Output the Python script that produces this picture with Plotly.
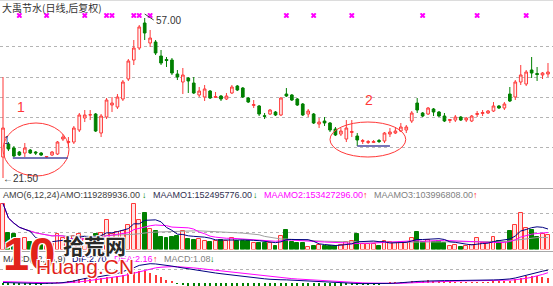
import plotly.graph_objects as go
import pandas as pd

# ---------------- data ----------------
days = list(range(101))
open_ = [26.05, 28.86, 27.99, 27.13, 26.91, 27.56, 27.13, 26.91, 26.05, 26.48,
         26.70, 29.94, 29.18, 29.29, 31.89, 34.49, 35.14, 35.35, 31.24, 34.70,
         37.30, 36.87, 38.60, 42.93, 47.04, 49.64, 55.05, 50.72, 50.94, 47.91,
         47.15, 47.04, 44.01, 42.28, 43.15, 42.06, 39.47, 39.03, 40.33, 38.93,
         39.25, 38.60, 39.90, 41.41, 40.98, 38.82, 37.20, 37.09, 34.98, 35.35,
         35.79, 35.14, 39.68, 39.47, 38.60, 37.52, 35.35, 35.35, 33.19, 33.84,
         33.41, 32.11, 31.02, 29.94, 31.35, 30.59, 29.40, 29.18, 29.18, 29.62,
         29.51, 31.02, 31.24, 31.67, 31.89, 33.84, 37.73, 35.57, 35.35, 36.44,
         35.79, 34.92, 33.95, 34.05, 34.70, 34.05, 33.84, 35.25, 35.46, 35.57,
         36.00, 37.09, 36.65, 39.68, 39.03, 42.28, 41.85, 44.88, 44.12, 43.80,
         44.01]
high = [43.36, 29.29, 28.43, 27.34, 29.08, 27.78, 27.34, 27.13, 26.26, 27.34,
        29.51, 31.02, 30.37, 32.76, 35.57, 36.22, 36.22, 35.57, 35.35, 38.82,
        39.03, 39.68, 42.71, 47.26, 51.37, 54.62, 57.00, 53.54, 51.37, 49.21,
        47.69, 47.47, 44.88, 45.31, 43.36, 43.36, 41.20, 41.63, 40.55, 40.12,
        39.47, 39.90, 41.63, 41.63, 41.20, 39.03, 38.38, 37.30, 35.57, 36.44,
        36.00, 39.03, 40.98, 39.68, 38.82, 37.73, 36.44, 35.57, 34.49, 34.70,
        33.62, 32.54, 32.32, 34.05, 34.05, 31.24, 29.94, 29.73, 29.73, 29.94,
        31.46, 32.32, 32.54, 33.41, 32.97, 36.00, 38.82, 35.79, 36.87, 36.65,
        36.00, 35.57, 34.27, 35.14, 34.92, 34.70, 35.14, 36.00, 36.22, 36.22,
        37.95, 37.30, 37.95, 41.20, 42.71, 45.96, 44.88, 47.69, 45.53, 44.44,
        46.39]
low = [21.50, 27.34, 26.05, 26.26, 26.05, 26.70, 26.48, 26.26, 25.83, 26.26,
       26.48, 29.51, 28.21, 28.86, 31.46, 33.62, 34.05, 31.46, 30.37, 34.27,
       35.79, 36.44, 38.17, 42.50, 45.96, 49.21, 51.37, 49.86, 48.12, 45.96,
       45.53, 43.80, 42.71, 39.68, 39.90, 39.68, 39.03, 38.17, 38.60, 38.82,
       38.17, 38.38, 39.68, 40.33, 38.82, 37.73, 36.65, 34.92, 34.27, 35.14,
       34.92, 34.92, 39.03, 38.17, 37.09, 34.92, 34.70, 33.19, 32.32, 32.76,
       31.46, 30.59, 30.59, 29.29, 30.37, 28.43, 28.86, 28.86, 29.08, 29.08,
       29.08, 30.37, 31.02, 31.46, 31.24, 33.41, 35.57, 34.70, 35.14, 34.92,
       34.70, 33.62, 33.41, 33.62, 33.84, 33.62, 33.62, 34.70, 34.92, 35.35,
       35.79, 36.44, 36.22, 37.95, 38.38, 41.63, 41.41, 43.15, 42.50, 42.93,
       43.36]
close = [32.32, 27.78, 26.26, 26.48, 27.99, 26.91, 26.91, 26.48, 26.15, 27.13,
         29.29, 30.37, 29.40, 32.32, 35.14, 35.14, 35.20, 31.67, 34.92, 38.38,
         37.73, 39.03, 42.28, 46.83, 49.64, 54.19, 52.89, 51.80, 48.56, 46.39,
         46.93, 44.23, 43.36, 43.80, 42.50, 39.90, 40.33, 40.77, 38.82, 39.14,
         38.60, 39.25, 41.20, 40.55, 39.03, 37.95, 37.41, 35.35, 34.86, 36.22,
         35.14, 38.82, 39.25, 38.38, 37.30, 35.14, 36.00, 33.41, 33.62, 33.41,
         31.89, 30.81, 31.67, 32.32, 31.57, 29.73, 29.62, 29.40, 29.40, 29.40,
         31.24, 31.46, 31.67, 32.54, 32.54, 35.57, 36.22, 34.92, 36.65, 35.79,
         34.92, 33.84, 34.16, 34.70, 34.05, 34.49, 34.92, 35.46, 35.68, 36.00,
         37.09, 36.65, 37.52, 38.17, 42.28, 43.80, 44.44, 44.23, 43.90, 44.23,
         44.44]
# turnover amount (AMO), millions
amo = [368, 136, 128, 80, 96, 64, 64, 64, 40, 48,
       128, 96, 80, 112, 128, 88, 80, 128, 136, 240,
       128, 144, 152, 200, 368, 240, 296, 168, 152, 104,
       96, 104, 112, 152, 88, 80, 88, 72, 64, 72,
       80, 72, 96, 72, 72, 72, 56, 56, 56, 56,
       32, 112, 160, 64, 56, 56, 24, 32, 40, 32,
       32, 32, 40, 64, 72, 128, 48, 48, 48, 32,
       72, 64, 56, 64, 56, 96, 144, 64, 80, 64,
       72, 56, 32, 40, 24, 32, 40, 96, 56, 56,
       104, 72, 64, 152, 200, 296, 176, 160, 104, 128,
       119.29]
dif = [0.10, 0.05, 0.00, -0.03, -0.05, -0.07, -0.08, -0.09, -0.10, -0.08,
       0.00, 0.08, 0.20, 0.40, 0.70, 0.95, 1.15, 1.20, 1.35, 1.60,
       1.80, 2.00, 2.35, 2.80, 3.20, 3.70, 3.95, 4.05, 4.00, 3.90,
       3.75, 3.55, 3.35, 3.15, 2.95, 2.75, 2.55, 2.40, 2.25, 2.10,
       1.95, 1.80, 1.68, 1.55, 1.42, 1.28, 1.15, 1.00, 0.88, 0.78,
       0.68, 0.68, 0.66, 0.60, 0.52, 0.42, 0.35, 0.26, 0.20, 0.14,
       0.06, -0.02, -0.06, -0.05, -0.05, -0.10, -0.13, -0.15, -0.16, -0.17,
       -0.13, -0.08, -0.03, 0.02, 0.06, 0.18, 0.32, 0.38, 0.45, 0.50,
       0.52, 0.50, 0.50, 0.50, 0.49, 0.49, 0.50, 0.52, 0.55, 0.58,
       0.64, 0.68, 0.73, 0.85, 1.05, 1.35, 1.70, 1.98, 2.22, 2.48,
       2.70]
dea = [0.30, 0.26, 0.21, 0.16, 0.12, 0.08, 0.05, 0.02, 0.00, -0.02,
       -0.01, 0.01, 0.05, 0.12, 0.24, 0.38, 0.53, 0.66, 0.80, 0.96,
       1.13, 1.31, 1.51, 1.77, 2.06, 2.39, 2.70, 2.97, 3.18, 3.32,
       3.41, 3.44, 3.42, 3.37, 3.28, 3.17, 3.05, 2.92, 2.79, 2.68,
       2.53, 2.38, 2.24, 2.10, 1.99, 1.85, 1.71, 1.57, 1.43, 1.30,
       1.18, 1.08, 0.99, 0.92, 0.84, 0.76, 0.68, 0.60, 0.52, 0.44,
       0.37, 0.29, 0.22, 0.16, 0.12, 0.07, 0.03, 0.00, -0.04, -0.06,
       -0.08, -0.09, -0.08, -0.06, -0.04, 0.00, 0.06, 0.12, 0.18, 0.24,
       0.30, 0.34, 0.37, 0.40, 0.42, 0.44, 0.45, 0.46, 0.48, 0.49,
       0.51, 0.54, 0.57, 0.61, 0.68, 0.79, 0.98, 1.20, 1.45, 1.80,
       2.16]
macd = [-0.40, -0.42, -0.42, -0.38, -0.34, -0.30, -0.26, -0.22, -0.20, -0.12,
        0.02, 0.14, 0.30, 0.56, 0.92, 1.14, 1.24, 1.08, 1.10, 1.28,
        1.34, 1.38, 1.68, 2.06, 2.28, 2.62, 2.50, 2.16, 1.64, 1.16,
        0.68, 0.22, -0.14, -0.44, -0.66, -0.84, -1.00, -1.04, -1.08, -1.16,
        -1.16, -1.16, -1.12, -1.10, -1.14, -1.14, -1.12, -1.14, -1.10, -1.04,
        -1.00, -0.80, -0.66, -0.64, -0.64, -0.68, -0.66, -0.68, -0.64, -0.60,
        -0.62, -0.62, -0.56, -0.42, -0.34, -0.34, -0.32, -0.30, -0.24, -0.22,
        -0.10, 0.02, 0.10, 0.16, 0.20, 0.36, 0.52, 0.52, 0.54, 0.52,
        0.44, 0.32, 0.26, 0.20, 0.14, 0.10, 0.10, 0.12, 0.14, 0.18,
        0.26, 0.28, 0.32, 0.48, 0.74, 1.12, 1.44, 1.56, 1.54, 1.36,
        1.08]
marker_days = [3, 8, 15, 19, 20, 24, 25, 27, 52, 57, 64, 77, 87, 96]
price_grid = [49.86, 43.15, 39.03, 34.70, 28.21]
amo_grid = [140, 292]
macd_grid = [2.94]

title_text = "大禹节水(日线,后复权)"
amo_labels = [("AMO(6,12,24)", 1, "#404040"), ("AMO:119289936.00", 58, "#404040"),
              ("↓", 140, "#008000"), ("MAAMO1:152495776.00", 151, "#303050"),
              ("↓", 251, "#008000"), ("MAAMO2:153427296.00", 262, "#ff00ff"),
              ("↑", 361, "#ff2020"), ("MAAMO3:103996808.00", 372, "#808080"),
              ("↑", 471, "#ff2020")]
macd_labels = [("MACD(12,26,9)", 1, "#404040"), ("DIF:2.70", 70, "#000080"),
               ("DEA:2.16", 112, "#ff00ff"), ("↑", 151, "#ff2020"),
               ("MACD:1.08", 162, "#808080"), ("↓", 208, "#008000")]

# ---------------- styling ----------------
W, H = 553, 286
RED = "#ff3838"
GREEN = "#008000"
NAVY = "#000080"
MAG = "#ff00ff"
GRAY = "#a0a0a0"
LAT = "Liberation Sans, Arial, sans-serif"
CJK = "Noto Sans CJK SC, sans-serif"


def fy(ypix):
    return (H - ypix) / H


fig = go.Figure()

fig.add_trace(go.Candlestick(
    x=days, open=open_, high=high, low=low, close=close,
    increasing=dict(line=dict(color=RED, width=1), fillcolor="#fff0f0"),
    decreasing=dict(line=dict(color=GREEN, width=1), fillcolor=GREEN),
    whiskerwidth=0, xaxis="x", yaxis="y", showlegend=False, hoverinfo="skip"))

up = [c >= o for o, c in zip(open_, close)]
fig.add_trace(go.Bar(
    x=days, y=amo, width=0.72, yaxis="y2", showlegend=False, hoverinfo="skip",
    marker=dict(color=["#ffe4e4" if u else GREEN for u in up],
                line=dict(color=[RED if u else GREEN for u in up], width=1))))
s = pd.Series(amo)
for n, col in [(24, GRAY), (12, MAG), (6, NAVY)]:
    fig.add_trace(go.Scatter(x=days, y=s.rolling(n, min_periods=1).mean(), mode="lines",
                             line=dict(color=col, width=1), yaxis="y2",
                             showlegend=False, hoverinfo="skip"))

fig.add_trace(go.Bar(
    x=days, y=macd, width=0.2, yaxis="y3", showlegend=False, hoverinfo="skip",
    marker=dict(color=[RED if m >= 0 else GREEN for m in macd], line=dict(width=0))))
fig.add_trace(go.Scatter(x=days, y=dea, mode="lines", line=dict(color=MAG, width=1),
                         yaxis="y3", showlegend=False, hoverinfo="skip"))
fig.add_trace(go.Scatter(x=days, y=dif, mode="lines", line=dict(color=NAVY, width=1),
                         yaxis="y3", showlegend=False, hoverinfo="skip"))

fig.add_trace(go.Scatter(x=marker_days, y=[0.5] * len(marker_days), mode="markers",
                         marker=dict(symbol="x", size=5, color=MAG, line=dict(width=0)),
                         yaxis="y4", showlegend=False, hoverinfo="skip"))

grid = dict(showgrid=True, gridcolor="#b4b4b4", griddash="dot", gridwidth=1,
            zeroline=False, showticklabels=False, ticks="", showline=False, fixedrange=True)

fig.update_layout(
    width=W, height=H, margin=dict(l=0, r=0, t=0, b=0),
    paper_bgcolor="white", plot_bgcolor="white", hovermode=False,
    showlegend=False, bargap=0,
    xaxis=dict(range=[-0.55, 100.92], visible=False, fixedrange=True,
               rangeslider=dict(visible=False)),
    yaxis=dict(domain=[fy(188), 1], range=[19.34, 60.03], tickvals=price_grid, **grid),
    yaxis2=dict(domain=[fy(249.5), fy(188)], range=[0, 492], tickvals=amo_grid, **grid),
    yaxis3=dict(domain=[0, fy(251)], range=[-0.63, 6.72], tickvals=macd_grid, **grid),
    yaxis4=dict(domain=[fy(18), fy(13)], range=[0, 1], visible=False, fixedrange=True),
)

shapes = []
for yp, col in [(0.5, "#dcdcdc"), (188.5, "#a8a8a8"), (251.5, "#a8a8a8")]:
    shapes.append(dict(type="line", xref="paper", yref="paper", x0=0, x1=1,
                       y0=fy(yp), y1=fy(yp), line=dict(color=col, width=1)))
# hand-drawn ellipses
shapes.append(dict(type="circle", xref="x", yref="y", x0=0.0, x1=12.1, y0=21.93, y1=33.41,
                   line=dict(color=RED, width=1)))
shapes.append(dict(type="circle", xref="x", yref="y", x0=60.0, x1=73.9, y0=26.05, y1=33.62,
                   line=dict(color=RED, width=1)))
# support lines at the lows of each base
shapes.append(dict(type="line", xref="x", yref="y", x0=1.8, x1=11.9,
                   y0=min(low[1:13]), y1=min(low[1:13]), line=dict(color="#4848a0", width=1.5)))
shapes.append(dict(type="line", xref="x", yref="y", x0=65.0, x1=71.0,
                   y0=min(low[64:71]), y1=min(low[64:71]), line=dict(color="#4848a0", width=1.5)))
fig.update_layout(shapes=shapes)

ann = []
ann.append(dict(x=0, y=fy(7), xref="paper", yref="paper", xanchor="left", yanchor="middle",
                text=title_text, showarrow=False, font=dict(family=CJK, size=10, color="#333333")))
for t, xp, col in amo_labels:
    ann.append(dict(x=xp / W, y=fy(195), xref="paper", yref="paper", xanchor="left",
                    yanchor="middle", text=t, showarrow=False,
                    font=dict(family=LAT, size=9, color=col)))
for t, xp, col in macd_labels:
    ann.append(dict(x=xp / W, y=fy(259), xref="paper", yref="paper", xanchor="left",
                    yanchor="middle", text=t, showarrow=False,
                    font=dict(family=LAT, size=9, color=col)))
ann.append(dict(x=3.3, y=36.87, xref="x", yref="y", text="1", showarrow=False,
                font=dict(family=LAT, size=14, color=RED)))
ann.append(dict(x=67.2, y=38.38, xref="x", yref="y", text="2", showarrow=False,
                font=dict(family=LAT, size=14, color=RED)))
ann.append(dict(x=0.75, y=29.73, xref="x", yref="y", text="1", showarrow=False,
                font=dict(family=LAT, size=10, color="#303070")))
ann.append(dict(x=26, y=max(high), xref="x", yref="y", text="57.00", showarrow=True,
                ax=9, ay=6, arrowhead=0, arrowwidth=1, arrowcolor="#404040",
                xanchor="left", yanchor="middle", font=dict(family=LAT, size=10, color="#333333")))
ann.append(dict(x=0, y=min(low), xref="x", yref="y", text="←21.50", showarrow=False,
                xanchor="left", yanchor="middle", xshift=-2,
                font=dict(family=LAT, size=10, color="#333333")))
# watermark
halo = "-1px -1px 0 #fff, 1px 1px 0 #fff, 1px -1px 0 #fff, -1px 1px 0 #fff"
ann.append(dict(x=1 / W, y=fy(253), xref="paper", yref="paper", xanchor="left", yanchor="middle",
                text="<b>10</b>", showarrow=False,
                font=dict(family=LAT, size=47, color="#e2231a", shadow=halo)))
ann.append(dict(x=61 / W, y=fy(245), xref="paper", yref="paper", xanchor="left", yanchor="middle",
                text="<b>拾荒网</b>", showarrow=False,
                font=dict(family=CJK, size=21, color="#2a2a2a", shadow=halo)))
ann.append(dict(x=34 / W, y=fy(266), xref="paper", yref="paper", xanchor="left", yanchor="middle",
                text="Huang.CN", showarrow=False,
                font=dict(family=LAT, size=21, color="#e2231a", shadow=halo)))
fig.update_layout(annotations=ann)

fig.write_html("out.html", config=dict(displayModeBar=False))
